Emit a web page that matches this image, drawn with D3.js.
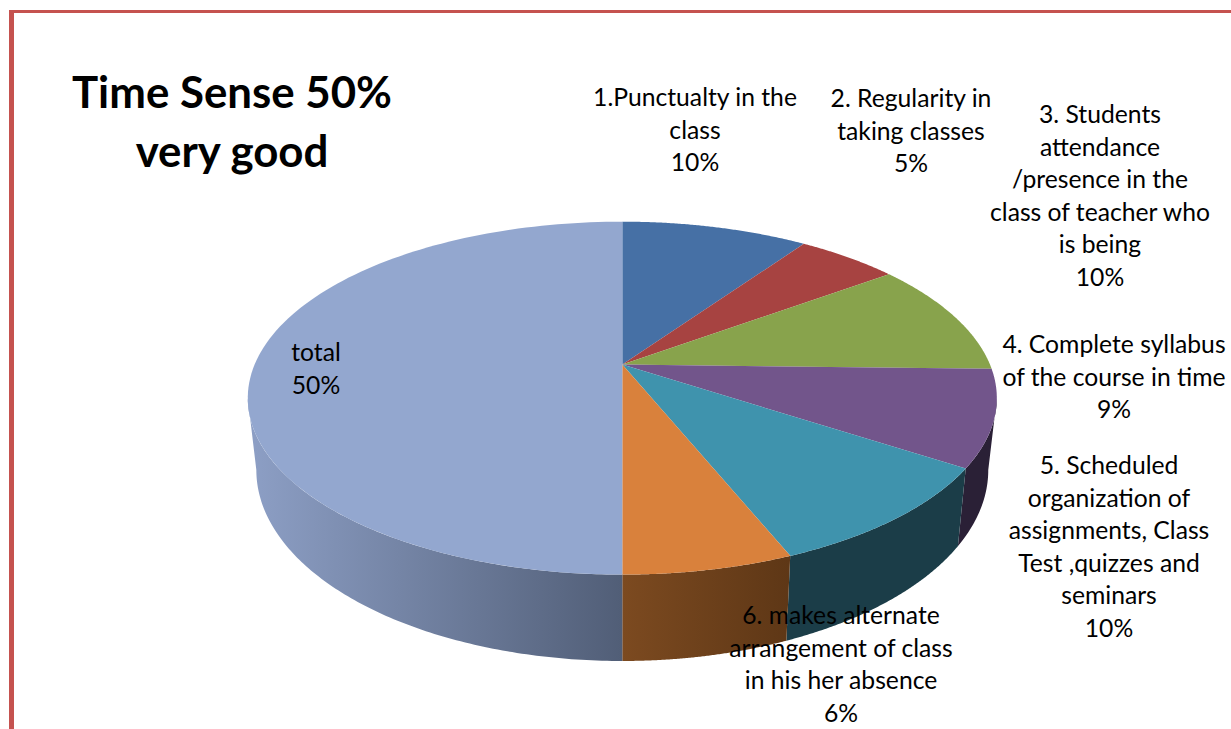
<!DOCTYPE html>
<html>
<head>
<meta charset="utf-8">
<script src="https://cdn.jsdelivr.net/npm/d3@7"></script>
<style>
html,body{margin:0;padding:0;background:#fff;overflow:hidden}
svg{display:block}
text{font-family:Lato,"Open Sans",sans-serif;fill:#000}
</style>
</head>
<body>
<svg id="chart" width="1231" height="729"></svg>
<script>
const categories = ["1.Punctualty in the class","2. Regularity in taking classes","3. Students attendance /presence in the class of teacher who is being","4. Complete syllabus of the course in time","5. Scheduled organization of assignments, Class Test ,quizzes and seminars","6. makes alternate arrangement of class in his her absence","total"];
const values = [9.67,5.27,10.45,8.83,9.64,6.14,50];
const labelLines = [
  ["1.Punctualty in the","class"],
  ["2. Regularity in","taking classes"],
  ["3. Students","attendance","/presence in the","class of teacher who","is being"],
  ["4. Complete syllabus","of the course in time"],
  ["5. Scheduled","organization of","assignments, Class","Test ,quizzes and","seminars"],
  ["6. makes alternate","arrangement of class","in his her absence"],
  ["total"]
];
const titleLines = ["Time Sense 50%","very good"];
const topColors = ["#4670a5","#a74341","#88a34c","#72558b","#3f93ad","#d9813c","#93a7cf"];
const sideColors = [["#2c4668","#2c4668"],["#692a29","#692a29"],["#556630","#556630"],["#2a2036","#2a2036"],["#1b3d48","#1b3d48"],["#7c4a20","#5e3716"],["#8c9ec4","#515e77"]];
const labelPos = [[695,97],[911,98],[1100,114],[1114,344],[1109,465],[841,615],[316,352]];

const svg = d3.select("#chart");
const defs = svg.append("defs");

// frame
svg.append("rect").attr("x",9).attr("y",10).attr("width",1222).attr("height",3).attr("fill","#c5524f");
svg.append("rect").attr("x",9).attr("y",10).attr("width",5).attr("height",719).attr("fill","#c5524f");

// planes of the tilted disc: projective view of a circle
const topPlane = {cx:622.3,y0:364.6,R:367.7,S:170.1,k:0.19};
const botPlane = {cx:622.3,y0:433.7,R:359.3,S:184.1,k:0.19};
const project = (pl,a)=>{
  const u=Math.sin(a), v=-Math.cos(a), w=1-pl.k*v;
  return [pl.cx+pl.R*u/w, pl.y0+pl.S*v/w];
};
const pie = d3.pie().sort(null).value(d=>d).startAngle(0).endAngle(2*Math.PI);
const arcs = pie(values);
const line = d3.line().curve(d3.curveLinear);
const sample = (a0,a1)=>d3.range(0,121).map(i=>a0+(a1-a0)*i/120);

// the wall is visible only between the two silhouette generators
const silA = Math.acos(-topPlane.k), silB = 2*Math.PI-silA;

arcs.forEach((d,i)=>{
  defs.append("linearGradient").attr("id","side"+i).attr("gradientUnits","userSpaceOnUse")
    .attr("x1",i===6?255:622).attr("x2",i===6?622:790).attr("y1",0).attr("y2",0)
    .selectAll("stop").data(sideColors[i]).join("stop")
    .attr("offset",(c,j)=>j).attr("stop-color",c=>c);
});

// walls
const wallG = svg.append("g");
wallG.selectAll("path").data(arcs.map((d,i)=>({d,i})).filter(o=>o.d.endAngle>silA&&o.d.startAngle<silB)).join("path")
  .attr("d",o=>{
    const as=sample(Math.max(o.d.startAngle,silA),Math.min(o.d.endAngle,silB));
    return line(as.map(a=>project(topPlane,a)).concat(as.slice().reverse().map(a=>project(botPlane,a))))+"Z";
  })
  .attr("fill",o=>`url(#side${o.i})`);

// top face
const topG = svg.append("g");
topG.selectAll("path").data(arcs).join("path")
  .attr("d",d=>{
    const pts=sample(d.startAngle,d.endAngle).map(a=>project(topPlane,a));
    return line([[topPlane.cx,topPlane.y0]].concat(pts))+"Z";
  })
  .attr("fill",(d,i)=>topColors[i]);

// title
svg.append("g").selectAll("text").data(titleLines).join("text")
  .attr("x",232).attr("y",(d,i)=>108+i*59)
  .attr("text-anchor","middle").attr("font-size",43.8).attr("font-weight",700)
  .text(d=>d);

// labels
const lh = 32.6;
arcs.forEach((d,i)=>{
  const lines = labelLines[i].concat([d3.format(".0f")(d.data)+"%"]);
  const t = svg.append("text").attr("text-anchor","middle").attr("font-size",24.7);
  lines.forEach((s,j)=>{
    t.append("tspan").attr("x",labelPos[i][0]).attr("y",labelPos[i][1]+9+j*lh).text(s);
  });
});
</script>
</body>
</html>
